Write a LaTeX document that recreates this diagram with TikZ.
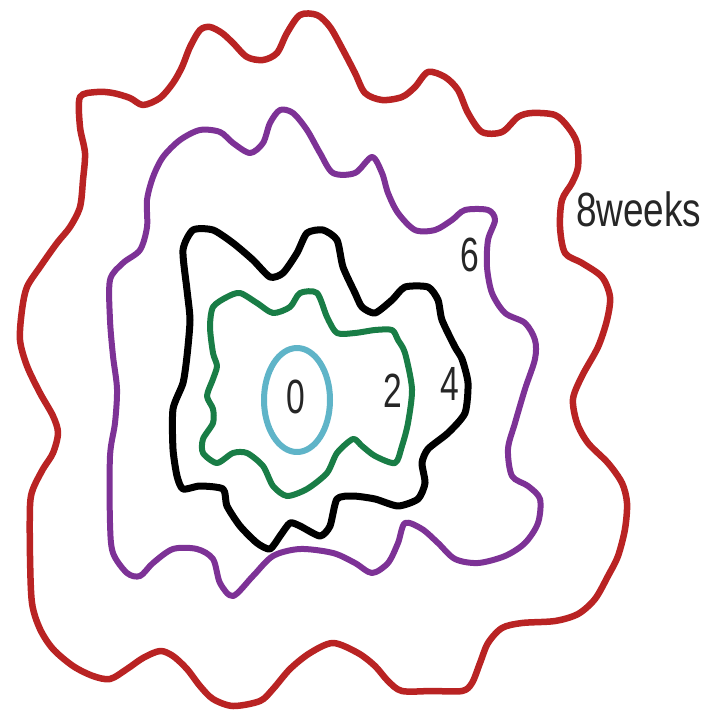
\documentclass[tikz,border=0pt]{standalone}
\usepackage{fontspec}
\setmainfont{Liberation Sans}
\definecolor{ringred}{RGB}{185,35,35}
\definecolor{ringpurple}{RGB}{125,50,150}
\definecolor{ringgreen}{RGB}{25,125,70}
\definecolor{ringcyan}{RGB}{95,180,200}
\begin{document}
\begin{tikzpicture}[x=1pt,y=-1pt,
  ring/.style={line width=6.5pt, line join=round},
  lab/.style={font=\fontsize{48}{48}\selectfont, xscale=0.7, inner sep=0pt, text=black!85}]
\useasboundingbox (0,0) rectangle (710,712);
\fill[white] (0,0) rectangle (710,712);
\draw[ring, ringred] plot[smooth cycle, tension=0.5] coordinates {
(80,97) (97,92) (113,93) (130,98) (143,105) (160,98) (173,83) (182,67) (190,47) (200,30) (210,27) (222,33) (233,43) (247,57) (263,60) (277,53) (287,33) (300,15) (317,15) (330,27) (343,50) (355,73) (365,93) (382,100) (402,97) (415,87) (428,72) (445,77) (458,90) (468,113) (482,132) (502,132) (518,117) (532,113) (555,115) (568,127) (577,143) (578,167) (572,183) (562,200) (560,227) (565,253) (582,263) (602,277) (610,297) (607,320) (598,347) (582,376) (573,399) (577,423) (588,443) (608,463) (622,483) (627,503) (625,529) (618,556) (608,576) (595,599) (578,614) (555,621) (522,623) (502,628) (488,643) (480,663) (472,683) (462,691) (432,691) (402,691) (388,681) (375,666) (358,653) (333,643) (310,653) (290,669) (273,689) (260,701) (233,706) (213,699) (200,686) (187,669) (173,656) (160,651) (143,658) (127,669) (110,679) (93,676) (73,666) (53,649) (40,629) (32,603) (30,556) (30,506) (33,489) (43,469) (53,453) (58,433) (53,416) (40,393) (27,366) (20,340) (22,310) (27,287) (40,267) (57,243) (70,227) (80,207) (83,180) (85,153) (80,127)};
\draw[ring, ringpurple, line width=6pt] plot[smooth cycle, tension=0.5] coordinates {
(110,280) (123,263) (140,250) (147,227) (147,200) (153,177) (163,157) (180,140) (200,130) (220,132) (233,143) (250,153) (263,143) (270,123) (280,110) (293,113) (307,130) (320,153) (333,173) (355,173) (372,157) (382,173) (388,193) (398,213) (415,230) (435,230) (452,220) (465,210) (488,210) (495,220) (488,240) (487,267) (492,293) (505,313) (525,323) (535,340) (535,359) (525,389) (515,423) (508,449) (512,476) (528,486) (540,499) (538,523) (525,543) (505,556) (478,563) (455,559) (438,543) (422,529) (405,523) (398,543) (388,563) (372,573) (355,563) (333,553) (300,549) (273,556) (253,576) (233,596) (220,583) (213,559) (197,549) (173,549) (153,563) (140,576) (127,573) (113,553) (110,523) (110,456) (115,423) (117,389) (113,356) (110,320)};
\draw[ring, black, line width=7pt] plot[smooth cycle, tension=0.4] coordinates {
(183,250) (193,230) (213,230) (233,243) (253,260) (270,277) (283,273) (297,253) (307,233) (323,230) (337,240) (343,267) (355,293) (362,307) (375,313) (392,300) (405,287) (428,287) (438,300) (442,320) (455,347) (462,359) (468,383) (465,413) (448,433) (428,449) (422,463) (425,483) (418,499) (398,506) (375,499) (353,496) (337,499) (330,526) (320,536) (300,526) (290,523) (280,536) (270,549) (257,543) (240,526) (227,506) (223,489) (200,486) (183,489) (177,476) (173,449) (173,409) (183,383) (187,356) (190,320) (187,290)};
\draw[ring, ringgreen, line width=6pt] plot[smooth cycle, tension=0.45] coordinates {
(213,307) (227,297) (240,293) (257,303) (273,313) (290,307) (300,293) (317,293) (327,317) (337,333) (355,333) (375,330) (392,330) (398,340) (405,353) (412,389) (408,423) (402,446) (395,463) (375,456) (362,446) (353,439) (337,453) (327,473) (307,489) (287,496) (273,486) (263,466) (247,453) (233,453) (217,463) (203,453) (203,439) (213,423) (213,409) (207,396) (213,379) (217,366) (213,353) (210,327)};
\draw[ring, ringcyan, line width=6pt] (297,400) ellipse [x radius=33, y radius=52];
\node[lab] (w0) at (296,397) {0};
\node[lab] (w2) at (393,391) {2};
\node[lab] (w4) at (450,384) {4};
\node[lab] (w6) at (470,255) {6};
\node[lab, xscale=1.1, anchor=west] (w8) at (576,209) {8weeks};
\end{tikzpicture}
\end{document}
